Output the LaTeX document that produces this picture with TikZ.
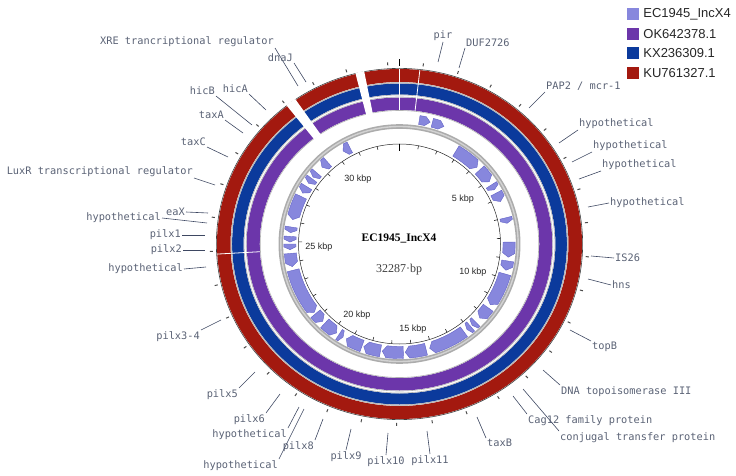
\documentclass[tikz,border=0pt]{standalone}
\usepackage{fontspec}
\setmainfont{Liberation Serif}
\setsansfont{Liberation Sans}
\newfontfamily\labfont{DejaVu Sans Mono}
\usetikzlibrary{positioning}

\definecolor{kured}{HTML}{A3190F}
\definecolor{kxblue}{HTML}{0B3A9C}
\definecolor{okpurple}{HTML}{6C36AA}
\definecolor{ecgene}{HTML}{8787DD}
\definecolor{ecedge}{HTML}{6262C6}
\definecolor{labgray}{HTML}{5A6275}
\definecolor{linegray}{HTML}{3E4862}

\tikzset{
  glab/.style={font=\labfont\fontsize{10.3}{12}\selectfont, text=labgray, inner sep=1pt},
  gline/.style={draw=linegray, line width=0.6pt},
  gene/.style={fill=ecgene, draw=ecedge, line width=0.4pt},
  ringedge/.style={draw=gray!60, line width=0.6pt},
  legbox/.style={minimum size=12pt, inner sep=0pt},
  legtext/.style={font=\sffamily\fontsize{13}{15}\selectfont, text=black!85, inner sep=0pt},
  kbplab/.style={font=\sffamily\fontsize{9}{10}\selectfont, text=black!85, inner sep=0pt}
}

% feature label with its pointer line
\newcommand{\glabel}[5]{%
  \node[glab, anchor=#2] (#1) at (#3) {#5};
  \coordinate (#1-p) at (#4);
  \draw[gline] (#1.#2) -- (#1-p);
}

\begin{document}
\begin{tikzpicture}[x=1pt, y=-1pt]
\useasboundingbox (0,0) rectangle (736,476);

% BLAST rings
\begin{scope}[shift={(399.5,244)}, xscale=1.043]
  \fill[kured, even odd rule] (0,0) circle[radius=175] circle[radius=162];
  \fill[kxblue, even odd rule] (0,0) circle[radius=160.5] circle[radius=149.5];
  \fill[okpurple, even odd rule] (0,0) circle[radius=146.5] circle[radius=134];
  \foreach \r in {161.4,160.9,149,147,133.5}
    \draw[ringedge] (0,0) circle[radius=\r];
  \draw[black!75, line width=0.6pt] (0,0) circle[radius=175.6];
  \foreach \t/\w in {-12.5/2.8, -36.3/3.4} {
    \pgfmathsetmacro\sa{\t-\w/2-90}
    \pgfmathsetmacro\sb{\t+\w/2-90}
    \fill[white] (\sa:132.8) -- (\sa:176.3) arc[start angle=\sa, end angle=\sb, radius=176.3]
      -- (\sb:132.8) arc[start angle=\sb, end angle=\sa, radius=132.8] -- cycle;
  }
  \foreach \t in {0,6.4,266.7}
    \draw[white, line width=0.8pt] ({\t-90}:133.8) -- ({\t-90}:175.3);
  % outer scale marks
  \foreach \k in {0,...,32} {
    \pgfmathsetmacro\t{-3.6+10.85*\k-90}
    \draw[black!70, line width=1pt] (\t:179) -- (\t:182);
  }
  \draw[black, line width=1.3pt] (-90:178) -- (-90:185);
\end{scope}

% EC1945_IncX4 genes and scale
\begin{scope}[shift={(399.5,244)}, xscale=1.01]
  \draw[gray!65, line width=4.6pt] (0,0) circle[radius=117.5];
  \draw[gray!35, line width=1.4pt] (0,0) circle[radius=117.5];
  \draw[black!85, line width=0.5pt] (0,0) circle[radius=100];
  \foreach \k in {1,...,32}
    \draw[black!85, line width=0.6pt] ({10.85*\k-90}:100) -- ({10.85*\k-90}:96.5);
  \draw[black, line width=1.4pt] (-90:100) -- (-90:93);
  \foreach \a/\b/\ri/\ro/\dir in {
      9/14/121/130/1, 15/20.5/121/130/1,
      31/45/102.5/114.5/1, 47/55/102.5/114.5/1, 57/60/102.5/114.5/1,
      62/67/102.5/114.5/1, 76/79/102.5/114.5/1, 89/97/102.5/114.5/1,
      99/104/102.5/114.5/1, 106/124/102.5/114.5/1, 126/133/102.5/114.5/1,
      136/138.5/102.5/114.5/1, 139.5/142/102.5/114.5/1, 144/164/102.5/114.5/1,
      166/177/102.5/114.5/1, 178/189/102.5/114.5/1, 190/199/102.5/114.5/1,
      200/209/102.5/114.5/1, 211/213.5/102.5/114.5/-1, 215/223/102.5/114.5/-1,
      224.5/230/102.5/114.5/-1, 231/256/102.5/114.5/-1, 258/265/102.5/114.5/-1,
      267/270/102.5/114.5/-1, 271/274/102.5/114.5/-1, 276/279/102.5/114.5/-1,
      283/296/102.5/114.5/-1, 298/302/102.5/114.5/-1, 304/307/102.5/114.5/-1,
      308/311/102.5/114.5/-1, 315/319/102.5/114.5/-1, 329/333/102.5/114.5/-1} {
    \pgfmathsetmacro\hh{min(2.2,(\b-\a)/2)}
    \pgfmathsetmacro\rmid{(\ri+\ro)/2}
    \pgfmathsetmacro\sa{\a-90}
    \pgfmathsetmacro\sb{\b-90}
    \ifnum\dir=1
      \pgfmathsetmacro\sc{\b-\hh-90}
      \filldraw[gene] (\sa:\ro) arc[start angle=\sa, end angle=\sc, radius=\ro] -- (\sb:\rmid)
        -- (\sc:\ri) arc[start angle=\sc, end angle=\sa, radius=\ri] -- cycle;
    \else
      \pgfmathsetmacro\sc{\a+\hh-90}
      \filldraw[gene] (\sa:\rmid) -- (\sc:\ro) arc[start angle=\sc, end angle=\sb, radius=\ro]
        -- (\sb:\ri) arc[start angle=\sb, end angle=\sc, radius=\ri] -- cycle;
    \fi
  }
\end{scope}

% scale labels
\node[kbplab] (k5) at (463,199) {5 kbp};
\node[kbplab] (k10) at (473,272) {10 kbp};
\node[kbplab] (k15) at (413,329) {15 kbp};
\node[kbplab] (k20) at (357,315) {20 kbp};
\node[kbplab] (k25) at (319,247) {25 kbp};
\node[kbplab] (k30) at (358,179) {30 kbp};

% centre
\node[font=\bfseries\fontsize{11.5}{13}\selectfont] (title) at (399,238) {EC1945\_IncX4};
\node[font=\fontsize{12}{14}\selectfont, text=black!75] (size) at (399,270) {32287·bp};

% feature labels
\glabel{xre}{south east}{275,48}{298,86}{XRE trancriptional regulator}
\glabel{dnaj}{south east}{294,63}{306,82}{dnaJ}
\glabel{hicb}{south east}{216,96}{252,125}{hicB}
\glabel{hica}{south east}{249,94}{266,110}{hicA}
\glabel{taxa}{south east}{225,120}{243,133}{taxA}
\glabel{taxc}{south east}{207,147}{228,157}{taxC}
\glabel{luxr}{south east}{194,178}{215,185}{LuxR transcriptional regulator}
\glabel{eax}{east}{186,212}{208,213}{eaX}
\glabel{hypl1}{east}{162,218}{207,223}{hypothetical}
\glabel{pilx1}{east}{182,235}{205,235}{pilx1}
\glabel{pilx2}{east}{183,250}{205,250}{pilx2}
\glabel{hypl2}{east}{184,269}{206,267}{hypothetical}
\glabel{pilx34}{north east}{201,330}{221,320}{pilx3-4}
\glabel{pilx5}{north east}{239,388}{255,372}{pilx5}
\glabel{pilx6}{north east}{266,413}{280,394}{pilx6}
\glabel{hypb1}{north east}{288,428}{299,407}{hypothetical}
\glabel{pilx8}{north east}{315,440}{323,419}{pilx8}
\glabel{hypb2}{north east}{279,459}{304,409}{hypothetical}
\glabel{pilx9}{north}{346,450}{351,429}{pilx9}
\glabel{pilx10}{north}{386,455}{388,433}{pilx10}
\glabel{pilx11}{north}{430,454}{427,431}{pilx11}
\glabel{taxb}{north west}{486,438}{477,417}{taxB}
\glabel{cag}{north west}{527,414}{513,396}{Cag12 family protein}
\glabel{conj}{north west}{559,431}{523,389}{conjugal transfer protein}
\glabel{topo}{north west}{560,385}{543,370}{DNA topoisomerase III}
\glabel{topb}{north west}{591,341}{570,330}{topB}
\glabel{hns}{west}{611,285}{588,279}{hns}
\glabel{is26}{west}{614,258}{591,256}{IS26}
\glabel{hypr4}{west}{609,203}{588,207}{hypothetical}
\glabel{hypr3}{south west}{601,171}{579,179}{hypothetical}
\glabel{hypr2}{south west}{592,152}{572,162}{hypothetical}
\glabel{hypr1}{south west}{578,130}{559,143}{hypothetical}
\glabel{pap}{south west}{545,92}{529,108}{PAP2 / mcr-1}
\glabel{duf}{south west}{465,48}{459,68}{DUF2726}
\glabel{pir}{south}{443,42}{438,62}{pir}

% legend
\node[legbox, fill=ecgene] (leg1) at (633,14) {};
\node[legbox, fill=okpurple, below=7.3pt of leg1] (leg2) {};
\node[legbox, fill=kxblue, below=7.3pt of leg2] (leg3) {};
\node[legbox, fill=kured, below=7.3pt of leg3] (leg4) {};
\node[legtext, right=4pt of leg1] (legt1) {EC1945\_IncX4};
\node[legtext, right=4pt of leg2] (legt2) {OK642378.1};
\node[legtext, right=4pt of leg3] (legt3) {KX236309.1};
\node[legtext, right=4pt of leg4] (legt4) {KU761327.1};
\end{tikzpicture}
\end{document}
